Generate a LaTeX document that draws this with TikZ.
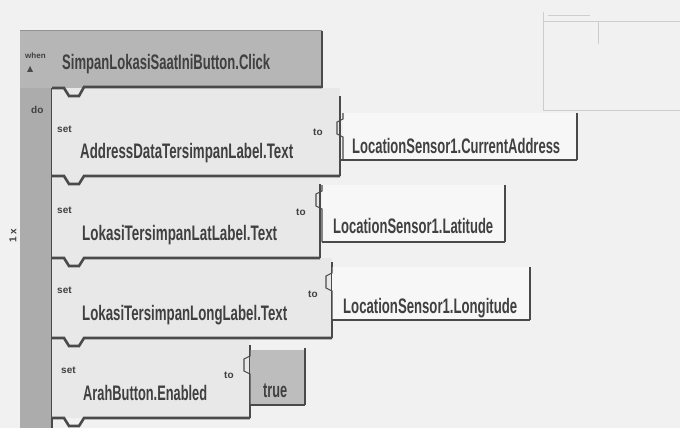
\documentclass[tikz,border=0pt]{standalone}
\usepackage{fontspec}
\setmainfont{Liberation Sans}
\usepackage{graphicx}
\newcommand\fitw[2]{\resizebox{#1}{\height}{#2}}
\definecolor{bgc}{HTML}{F1F1F1}
\definecolor{hdr}{HTML}{B6B6B6}
\definecolor{barc}{HTML}{ACACAC}
\definecolor{setc}{HTML}{E8E8E8}
\definecolor{valc}{HTML}{F7F7F7}
\definecolor{truec}{HTML}{BDBDBD}
\definecolor{edge}{HTML}{4A4A4A}
\definecolor{txt}{HTML}{404040}
\definecolor{faint}{HTML}{CDCDCD}
\begin{document}
\begin{tikzpicture}[x=1pt,y=-1pt,
  big/.style={inner sep=0pt,anchor=base west,text=txt,font=\fontsize{21}{21}\selectfont\bfseries},
  small/.style={inner sep=0pt,anchor=base west,text=txt,font=\fontsize{10}{10}\selectfont\bfseries},
  tiny/.style={inner sep=0pt,anchor=base west,text=txt,font=\fontsize{8}{8}\selectfont\bfseries},
  shade/.style={draw=edge,line width=2.6pt},
  thin/.style={draw=edge,line width=1.1pt}]
\useasboundingbox (0,0) rectangle (680,428);
\fill[bgc] (0,0) rectangle (680,428);
% faint window top right
\draw[faint,line width=1pt] (543,22) -- (680,22);
\draw[faint,line width=1pt] (543,12) -- (543,110) -- (680,110);
\draw[faint,line width=1pt] (598,22) -- (598,44);
\draw[faint,line width=0.8pt] (548,15) -- (590,15);
% header and left bar
\fill[hdr] (20,31) rectangle (322,88);
\fill[barc] (20,88) rectangle (52,428);
\draw[edge!60,line width=1pt] (20,31) -- (322,31);
\draw[thin] (322,31) -- (322,88);
\draw[thin] (52,88) -- (52,428);
% set blocks
\fill[setc] (52,88) rectangle (340,176);
\fill[setc] (52,176) rectangle (320,258);
\fill[setc] (52,258) rectangle (332,338);
\fill[setc] (52,338) rectangle (250,418);
% notches (bottom edges)
\draw[shade] (322,87) -- (84,87) -- (79,96) -- (69,96) -- (64,88) -- (52,88);
\draw[shade] (340,176) -- (84,176) -- (79,184) -- (69,184) -- (64,176) -- (52,176);
\draw[shade] (320,258) -- (84,258) -- (79,266) -- (69,266) -- (64,258) -- (52,258);
\draw[shade] (332,338) -- (84,338) -- (79,346) -- (69,346) -- (64,338) -- (52,338);
\draw[shade] (250,418) -- (84,418) -- (79,426) -- (69,426) -- (64,418) -- (52,418);
\draw[thin] (340,96) -- (340,176);
\draw[thin] (320,184) -- (320,258);
\draw[thin] (332,262) -- (332,338);
\draw[thin] (250,345) -- (250,418);
% value blocks
\fill[valc] (343,113) rectangle (577,160);
\draw[thin] (577,113) -- (577,160);
\draw[shade] (341,160) -- (577,160);
\draw[thin] (343,113) -- (343,119) -- (337,122) -- (337,134) -- (343,137) -- (343,160);
\fill[valc] (322,185) rectangle (505,242);
\draw[thin] (505,185) -- (505,242);
\draw[shade] (322,242) -- (505,242);
\draw[thin] (322,185) -- (322,191) -- (316,194) -- (316,206) -- (322,209) -- (322,242);
\fill[valc] (332,267) rectangle (530,320);
\draw[thin] (530,267) -- (530,320);
\draw[shade] (332,320) -- (530,320);
\draw[thin] (332,267) -- (332,273) -- (326,276) -- (326,288) -- (332,291) -- (332,320);
\fill[truec] (250,350) rectangle (305,405);
\draw[thin] (305,348) -- (305,405);
\draw[shade] (250,405) -- (305,405);
\draw[thin] (250,350) -- (250,356) -- (244,359) -- (244,371) -- (250,374) -- (250,405);
% texts
\node[tiny] (when) at (25,59) {when};
\fill[edge] (27,72) -- (33,72) -- (30,66) -- cycle;
\node[big] (hd) at (62,70) {\fitw{208pt}{SimpanLokasiSaatIniButton.Click}};
\node[small] (do) at (31,113) {do};
\node[small,rotate=90,anchor=center] (err) at (13,236) {1 x};
\node[small] (set1) at (57,132) {set};
\node[small] (set2) at (57,213) {set};
\node[small] (set3) at (57,293) {set};
\node[small] (set4) at (61,373) {set};
\node[small] (to1) at (313,135) {to};
\node[small] (to2) at (296,215) {to};
\node[small] (to3) at (308,297) {to};
\node[small] (to4) at (224,378) {to};
\node[big] (s1) at (80,158) {\fitw{213pt}{AddressDataTersimpanLabel.Text}};
\node[big] (s2) at (82,240) {\fitw{195pt}{LokasiTersimpanLatLabel.Text}};
\node[big] (s3) at (82,320) {\fitw{205pt}{LokasiTersimpanLongLabel.Text}};
\node[big] (s4) at (83,400) {\fitw{124pt}{ArahButton.Enabled}};
\node[big] (v1) at (352,153) {\fitw{208pt}{LocationSensor1.CurrentAddress}};
\node[big] (v2) at (333,233) {\fitw{160pt}{LocationSensor1.Latitude}};
\node[big] (v3) at (343,313) {\fitw{174pt}{LocationSensor1.Longitude}};
\node[big] (tr) at (263,397) {\fitw{24pt}{true}};
\end{tikzpicture}
\end{document}
